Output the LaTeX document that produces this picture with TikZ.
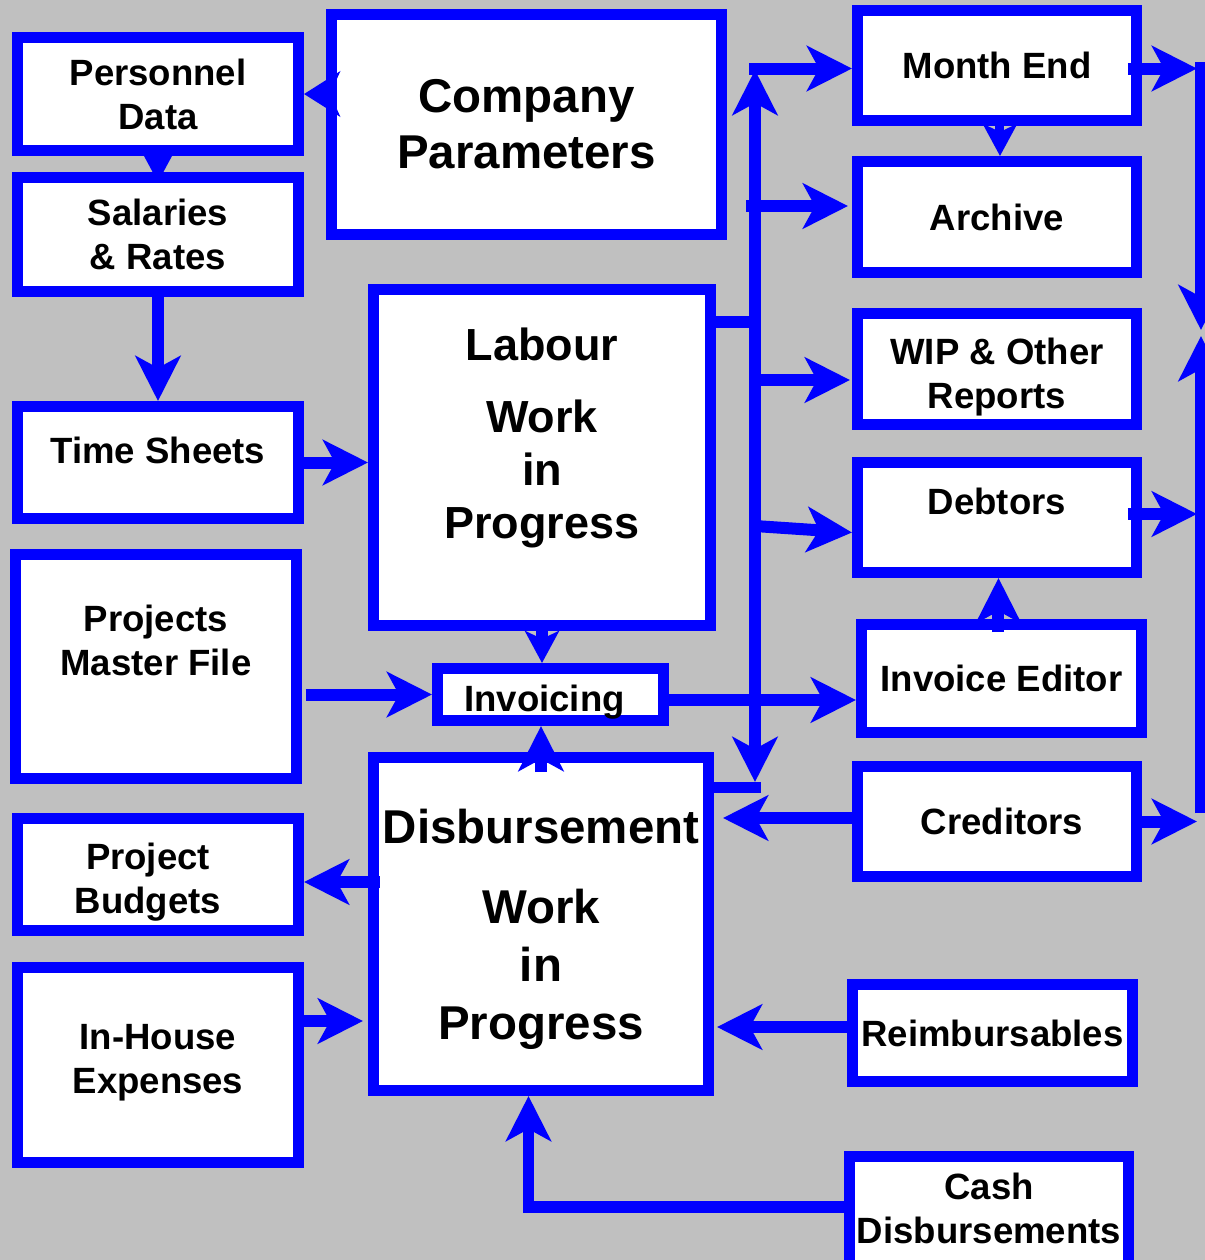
\documentclass[tikz,border=0pt]{standalone}
\usepackage{fontspec}
\setmainfont{Liberation Sans}
\usetikzlibrary{arrows.meta}
\definecolor{flowblue}{RGB}{0,0,255}
\definecolor{backgray}{RGB}{192,192,192}
\tikzset{
    box/.style={
        draw=flowblue,
        line width=0.11cm,
        fill=white,
        align=center,
        inner sep=0pt,
        minimum width=2.81cm,
        minimum height=1.12cm,
        font=\bfseries\fontsize{10.4pt}{12.5pt}\selectfont},
    big box/.style={
        box,
        font=\bfseries\fontsize{13.5pt}{16pt}\selectfont},
    >={Stealth[length=4.5mm,width=4.5mm,inset=1.2mm]},
    flow/.style={
        draw=flowblue,
        line width=0.12cm,
        ->},
    flowline/.style={
        draw=flowblue,
        line width=0.11cm},
    small tip/.style={
        >={Stealth[length=3.2mm,width=3.4mm,inset=0.8mm]}}}

\begin{document}
\begin{tikzpicture}
        \useasboundingbox (0,0) rectangle (12.05,-12.60);
        \fill[backgray] (0,0) rectangle (12.05,-12.60);

        \node[box,minimum height=1.13cm] (pers) at (1.58,-0.94) {Personnel\\Data};
        \node[box,minimum height=1.14cm] (sal) at (1.58,-2.345) {Salaries\\\& Rates};
        \node[big box,minimum width=3.90cm,minimum height=2.20cm] (comp) at (5.265,-1.245) {Company\\Parameters};
        \node[box,text depth=0.24cm] (time) at (1.58,-4.625) {Time Sheets};
        \node[box,minimum height=2.24cm,text depth=0.52cm] (proj) at (1.56,-6.665) {Projects\\Master File};
        \node[box,minimum width=3.37cm,minimum height=3.36cm,text depth=0.49cm,
              font=\bfseries\fontsize{12.8pt}{15.1pt}\selectfont] (lab) at (5.42,-4.575) {Labour\\[5.4pt]Work\\in\\Progress};
        \node[box,minimum width=2.26cm,minimum height=0.52cm,text height=0.42cm] (inv) at (5.505,-6.945) {Invoicing\hspace*{0.12cm}};
        \node[big box,minimum width=3.35cm,minimum height=3.33cm,text depth=0cm,
              font=\bfseries\fontsize{13.5pt}{16.5pt}\selectfont] (dis) at (5.41,-9.24) {Disbursement\\[6.3pt]Work\\in\\Progress};
        \node[box,text height=0.86cm] (bud) at (1.58,-8.745) {Project\hspace*{0.2cm}\\Budgets\hspace*{0.2cm}};
        \node[box,minimum height=1.95cm,text depth=0.12cm] (inh) at (1.58,-10.65) {In-House\\Expenses};

        \node[box,minimum width=2.79cm,minimum height=1.10cm] (me) at (9.97,-0.655) {Month End};
        \node[box,minimum width=2.79cm,minimum height=1.11cm] (arc) at (9.97,-2.17) {Archive};
        \node[box,minimum width=2.79cm,minimum height=1.11cm,text height=0.87cm] (wip) at (9.97,-3.69) {WIP \& Other\\Reports};
        \node[box,minimum width=2.79cm,minimum height=1.10cm,text depth=0.32cm] (deb) at (9.97,-5.175) {Debtors};
        \node[box,minimum width=2.80cm,minimum height=1.08cm] (ied) at (10.015,-6.785) {Invoice Editor};
        \node[box,minimum width=2.79cm,minimum height=1.10cm] (cre) at (9.97,-8.215) {\hspace*{0.1cm}Creditors};
        \node[box,minimum width=2.80cm,minimum height=0.97cm] (rei) at (9.925,-10.33) {Reimbursables};
        \node[box,minimum width=2.79cm,minimum height=1.13cm,text depth=0.10cm] (cash) at (9.89,-12.13) {Cash\\Disbursements};

        \coordinate (bus) at (7.55,-3.22);
        \coordinate (bustop) at (7.55,-0.70);
        \coordinate (busbot) at (7.55,-7.82);
        \coordinate (mejoin) at (7.49,-0.685);
        \coordinate (arcjoin) at (7.46,-2.06);
        \coordinate (wipjoin) at (7.55,-3.80);
        \coordinate (debjoin) at (7.55,-5.26);
        \coordinate (disjoin) at (7.61,-7.87);
        \coordinate (rtop) at (12.01,-0.62);
        \coordinate (rmidup) at (12.01,-3.30);
        \coordinate (rmiddown) at (12.01,-3.36);
        \coordinate (rbot) at (12.01,-8.13);
        \coordinate (rtip) at (11.97,0);

        \draw[flow,>={Stealth[length=3.6mm,width=4.5mm,inset=1mm]}] ([xshift=0.9mm]comp.west |- pers.east) -- (pers.east);
        \draw[flow,small tip] (pers.south) -- ([yshift=-1mm]sal.north);
        \draw[flow] (sal.south) -- (time.north);
        \draw[flow] (time.east) -- (time.east -| lab.west);
        \draw[flow] ([xshift=0.4mm]proj.east |- inv.west) -- (inv.west);
        \draw[flow,small tip] ([yshift=0.6mm]lab.south) -- (lab.south |- inv.north);
        \draw[flow] ([yshift=-0.2cm]dis.north) -- (dis.north |- inv.south);
        \draw[flow] ([yshift=-0.55mm]inv.east) -- ([yshift=-0.55mm]inv.east -| ied.west);

        \draw[flow] (lab.east |- bus) -- (bus) -- (bustop);
        \draw[flow] (bus) -- (busbot);
        \draw[flowline] (disjoin -| dis.east) -- (disjoin);
        \draw[flow] (mejoin) -- (mejoin -| me.west);
        \draw[flow] (arcjoin) -- ([xshift=-0.4mm]arcjoin -| arc.west);
        \draw[flow] (wipjoin) -- ([xshift=-0.2mm]wipjoin -| wip.west);
        \draw[flow] (debjoin) -- ([yshift=-0.15cm]deb.west);

        \draw[flow,small tip,line width=0.09cm] ([xshift=0.3mm,yshift=0.09cm]me.south) -- ([xshift=0.3mm]arc.north);
        \draw[flow] ([xshift=-0.14cm,yshift=-0.3mm]me.east) -- ([yshift=-0.3mm]me.east -| rtip);
        \draw[flow] ([xshift=-0.14cm,yshift=0.35mm]deb.east) -- ([yshift=0.35mm]deb.east -| rtip);
        \draw[flow] (cre.east) -- (cre.east -| rtip);
        \draw[flow] (rtop) -- (rmidup);
        \draw[flow] (rbot) -- (rmiddown);

        \draw[flow] ([xshift=-0.3mm,yshift=-0.13cm]ied.north) -- ([xshift=-0.3mm]ied.north |- deb.south);
        \draw[flow] ([yshift=0.35mm]cre.west) -- ([xshift=0.09cm,yshift=0.35mm]cre.west -| dis.east);
        \draw[flow] ([xshift=0.12cm,yshift=-0.75mm]dis.west |- bud.east) -- ([yshift=-0.75mm]bud.east);
        \draw[flow] ([yshift=0.44cm]inh.east) -- ([xshift=-0.05cm,yshift=0.44cm]inh.east -| dis.west);
        \draw[flow] ([yshift=0.6mm]rei.west) -- ([xshift=0.03cm,yshift=0.6mm]rei.west -| dis.east);
        \draw[flow] ([yshift=0.65mm]cash.west) -| ([xshift=-0.125cm]dis.south);
\end{tikzpicture}
\end{document}
